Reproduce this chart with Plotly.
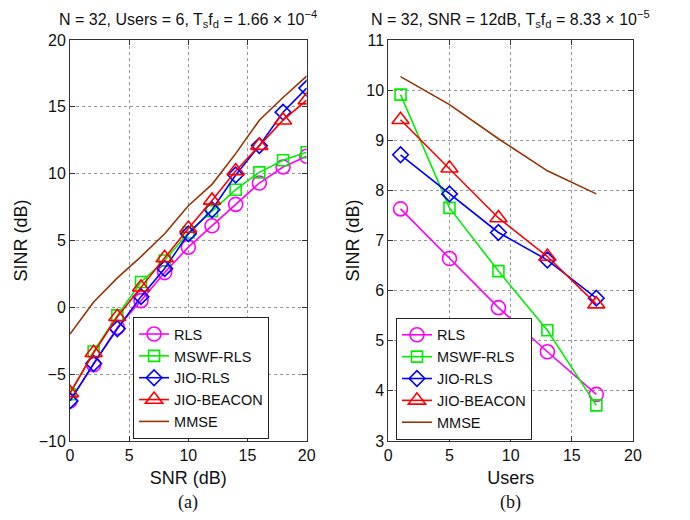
import plotly.graph_objects as go

# ---- data (a): SINR vs SNR ----
snr = [0, 2, 4, 6, 8, 10, 12, 14, 16, 18, 20]
a_rls = [-7.0, -4.3, -1.5, 0.5, 2.6, 4.5, 6.1, 7.7, 9.3, 10.5, 11.3]
a_mswf = [-6.5, -3.3, -0.6, 1.9, 3.5, 5.6, 7.2, 8.8, 10.1, 11.0, 11.6]
a_jio = [-7.0, -4.2, -1.6, 0.8, 2.9, 5.5, 7.3, 9.9, 12.1, 14.6, 16.4]
a_beacon = [-6.4, -3.4, -0.7, 1.5, 3.7, 5.9, 8.0, 10.2, 12.1, 14.0, 15.5]
a_mmse = [-2.0, 0.4, 2.2, 3.8, 5.5, 7.6, 9.2, 11.5, 14.0, 15.7, 17.3]

# ---- data (b): SINR vs Users ----
users = [1, 5, 9, 13, 17]
b_rls = [7.63, 6.64, 5.66, 4.78, 3.93]
b_mswf = [9.91, 7.65, 6.39, 5.21, 3.71]
b_jio = [8.71, 7.93, 7.16, 6.61, 5.85]
b_beacon = [9.41, 8.44, 7.45, 6.68, 5.73]
b_mmse = [10.27, 9.71, 9.03, 8.39, 7.93]

names = ["RLS", "MSWF-RLS", "JIO-RLS", "JIO-BEACON", "MMSE"]
colors = ["#ff00ff", "#00ee00", "#0000ff", "#ff0000", "#993300"]
symbols = ["circle-open", "square-open", "diamond-open", "triangle-up-open", None]
sizes = [14, 11, 12, 15, 0]

FONT = "Liberation Sans, Arial, sans-serif"

fig = go.Figure()

def add_series(x, ys, xa, ya, legend):
    for name, y, c, s, sz in zip(names, ys, colors, symbols, sizes):
        if s is None:
            fig.add_trace(go.Scatter(x=x, y=y, name=name, mode="lines",
                                     line=dict(color=c, width=1.6),
                                     xaxis=xa, yaxis=ya, legend=legend))
        else:
            fig.add_trace(go.Scatter(x=x, y=y, name=name, mode="lines+markers",
                                     line=dict(color=c, width=1.6),
                                     marker=dict(symbol=s, size=sz, color=c,
                                                 line=dict(width=1.6, color=c)),
                                     xaxis=xa, yaxis=ya, legend=legend))

add_series(snr, [a_rls, a_mswf, a_jio, a_beacon, a_mmse], "x", "y", "legend")
add_series(users, [b_rls, b_mswf, b_jio, b_beacon, b_mmse], "x2", "y2", "legend2")

ax_common = dict(showline=True, linecolor="#333", linewidth=1, mirror="ticks",
                 ticks="inside", ticklen=5, tickcolor="#333",
                 showgrid=True, gridcolor="#999", griddash="dot", gridwidth=1,
                 zeroline=False, tickfont=dict(family=FONT, size=16, color="#111"),
                 title_font=dict(family=FONT, size=18, color="#111"))

legend_common = dict(bgcolor="white", bordercolor="#222", borderwidth=1,
                     font=dict(family=FONT, size=14.5, color="#111"),
                     xanchor="left", yanchor="top", tracegroupgap=0,
                     itemwidth=30)

fig.update_layout(
    width=690, height=520,
    margin=dict(l=70, r=57, t=40, b=79),
    paper_bgcolor="white", plot_bgcolor="white",
    xaxis=dict(domain=[0, 0.4204], range=[0, 20], dtick=5,
               title=dict(text="SNR (dB)", standoff=8), anchor="y", **ax_common),
    yaxis=dict(domain=[0, 1], range=[-10, 20], dtick=5,
               title=dict(text="SINR (dB)", standoff=6), anchor="x", **ax_common),
    xaxis2=dict(domain=[0.5654, 1], range=[0, 20], dtick=5,
                title=dict(text="Users", standoff=8), anchor="y2", **ax_common),
    yaxis2=dict(domain=[0, 1], range=[3, 11], dtick=1,
                title=dict(text="SINR (dB)", standoff=2), anchor="x2", **ax_common),
    legend=dict(x=0.112, y=0.309, **legend_common),
    legend2=dict(x=0.579, y=0.307, **legend_common),
    showlegend=True,
)

fig.add_annotation(text="N = 32, Users = 6, T<sub>s</sub>f<sub>d</sub> = 1.66 × 10<sup>−4</sup>",
                   xref="paper", yref="paper", x=0.21, y=1.0, yshift=8,
                   xanchor="center", yanchor="bottom", showarrow=False,
                   font=dict(family=FONT, size=16, color="#111"))
fig.add_annotation(text="N = 32, SNR = 12dB, T<sub>s</sub>f<sub>d</sub> = 8.33 × 10<sup>−5</sup>",
                   xref="paper", yref="paper", x=0.782, y=1.0, yshift=8,
                   xanchor="center", yanchor="bottom", showarrow=False,
                   font=dict(family=FONT, size=16, color="#111"))
fig.add_annotation(text="(a)", xref="paper", yref="paper", x=0.21, y=0, yshift=-49,
                   xanchor="center", yanchor="top", showarrow=False,
                   font=dict(family="Liberation Serif, Times New Roman, serif", size=18, color="#111"))
fig.add_annotation(text="(b)", xref="paper", yref="paper", x=0.782, y=0, yshift=-49,
                   xanchor="center", yanchor="top", showarrow=False,
                   font=dict(family="Liberation Serif, Times New Roman, serif", size=18, color="#111"))

fig.write_html("out.html")
